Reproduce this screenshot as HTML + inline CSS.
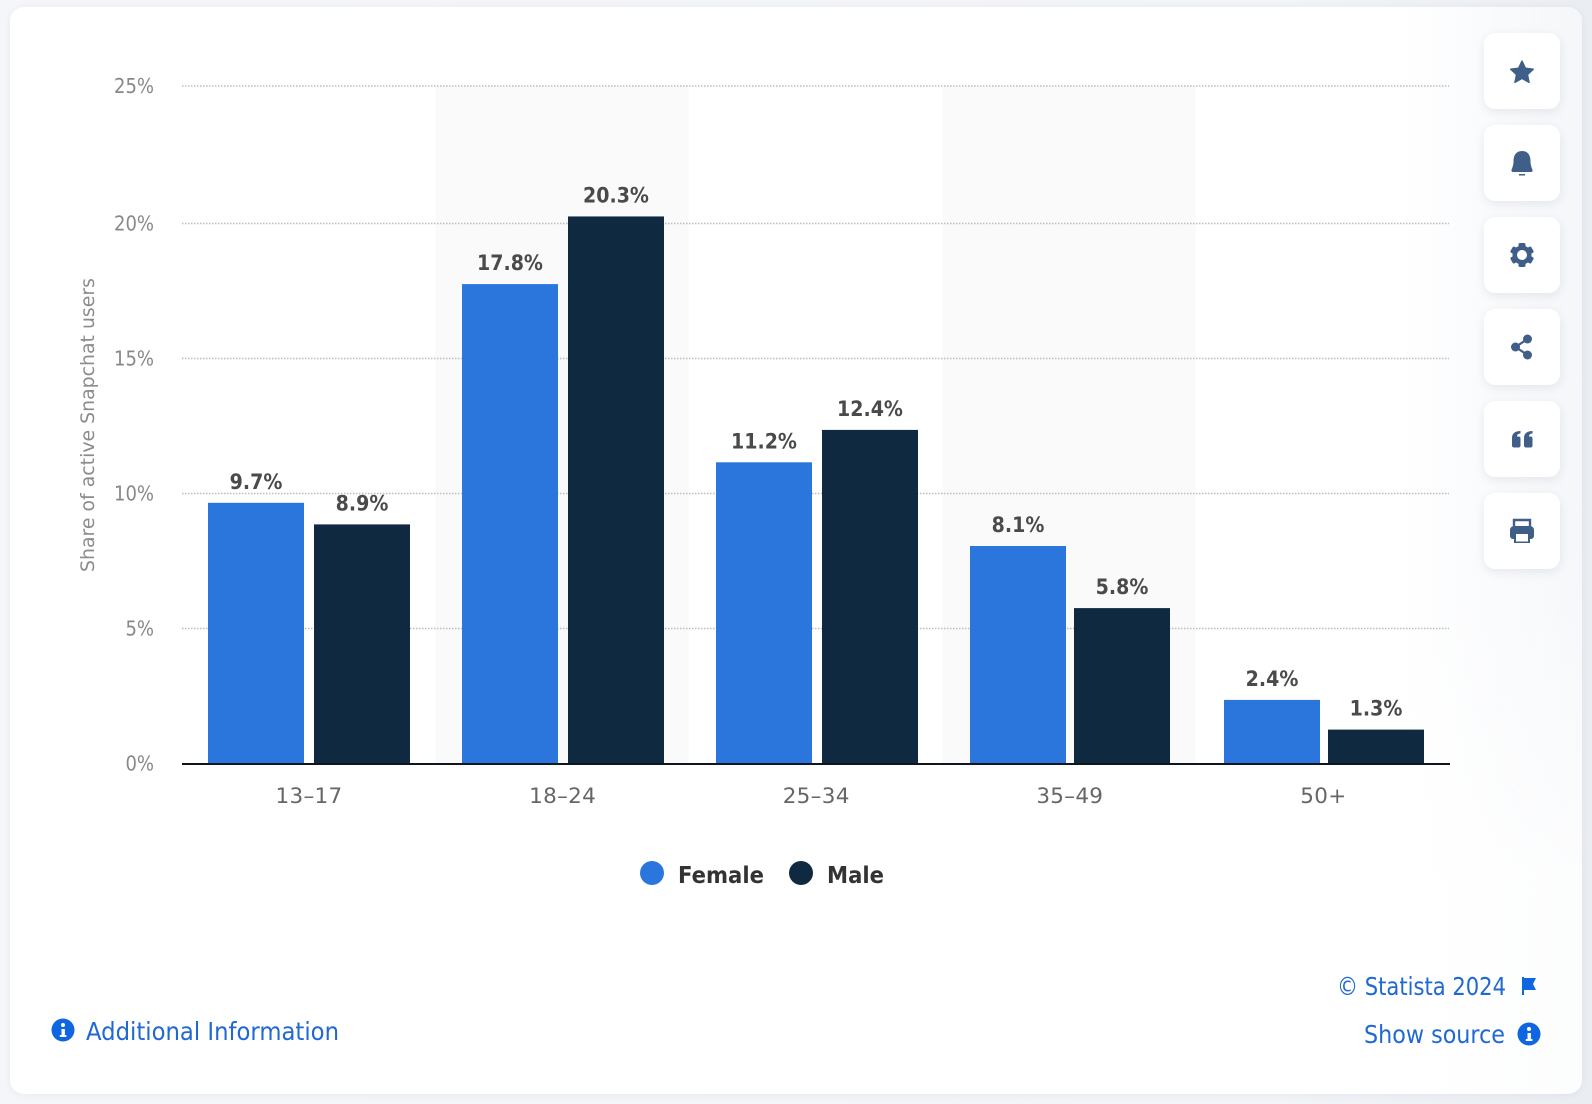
<!DOCTYPE html>
<html lang="en">
<head>
<meta charset="utf-8">
<title>Share of active Snapchat users by age and gender</title>
<style>
  html,body{margin:0;padding:0;width:1592px;height:1104px;overflow:hidden;background:linear-gradient(90deg,#f5f6f9,#f2f4f7 80%,#eaedf2);}
  #card{position:absolute;left:10px;top:7px;width:1572px;height:1087px;background:#fff;border-radius:14px;box-shadow:0 1px 8px rgba(60,80,110,.07);}
  #glow{position:absolute;left:1400px;top:7px;width:182px;height:1087px;border-radius:0 14px 14px 0;background:linear-gradient(90deg,rgba(240,243,247,0),rgba(240,243,247,.7));-webkit-mask-image:linear-gradient(180deg,#000 0,#000 50%,rgba(0,0,0,.25) 80%,rgba(0,0,0,.25) 100%);mask-image:linear-gradient(180deg,#000 0,#000 50%,rgba(0,0,0,.25) 80%,rgba(0,0,0,.25) 100%);}
  .tool{position:absolute;left:1484px;width:76px;height:76px;background:#fff;border-radius:11px;box-shadow:0 3px 10px rgba(50,70,100,.10);}
  .tool svg{position:absolute;left:0;top:0;width:76px;height:76px;}
  #chart{position:absolute;left:0;top:0;width:1592px;height:1104px;}
  text{font-family:"DejaVu Sans","Liberation Sans",sans-serif;}
  .link{font-family:"DejaVu Sans","Liberation Sans",sans-serif;font-size:24.5px;fill:#2068d2;}
</style>
</head>
<body>
<div id="card"></div>
<div id="glow"></div>

<svg id="chart" viewBox="0 0 1592 1104" xmlns="http://www.w3.org/2000/svg">
  <g id="bands"></g>
  <g id="grid"></g>
  <g id="ylabels"></g>
  <g id="bars"></g>
  <line x1="182" x2="1450" y1="764" y2="764" stroke="#10161d" stroke-width="2"/>
  <g id="xlabels"></g>
  <text transform="translate(94,425) rotate(-90)" text-anchor="middle" font-size="19" fill="#8c8c8c" textLength="294" lengthAdjust="spacingAndGlyphs">Share of active Snapchat users</text>

  <g>
    <g>
      <circle cx="652" cy="873" r="12" fill="#2a76dc"/>
      <text x="678" y="883" font-size="23.500" font-weight="700" fill="#333" textLength="86" lengthAdjust="spacingAndGlyphs">Female</text>
    </g>
    <g>
      <circle cx="801" cy="873" r="12" fill="#0f2a40"/>
      <text x="827" y="883" font-size="23.500" font-weight="700" fill="#333" textLength="57" lengthAdjust="spacingAndGlyphs">Male</text>
    </g>
  </g>

  <g>
    <circle cx="63" cy="1030" r="11.5" fill="#0f66e0"/>
    <rect x="61.5" y="1029" width="3.4" height="7" fill="#fff"/>
    <rect x="59.8" y="1035" width="6.6" height="2" fill="#fff"/>
    <circle cx="63" cy="1025" r="2" fill="#fff"/>
    <text class="link" x="86" y="1040" textLength="253" lengthAdjust="spacingAndGlyphs">Additional Information</text>
  </g>
  <g>
    <text class="link" x="1337" y="995" textLength="169" lengthAdjust="spacingAndGlyphs">© Statista 2024</text>
    <path d="M1522 977h2v18h-2zM1524 978h12l-3 6 3 6h-12z" fill="#0f66e0"/>
  </g>
  <g>
    <text class="link" x="1364" y="1043" textLength="141" lengthAdjust="spacingAndGlyphs">Show source</text>
    <circle cx="1529" cy="1034" r="11.5" fill="#0f66e0"/>
    <rect x="1527.5" y="1033" width="3.4" height="7" fill="#fff"/>
    <rect x="1525.8" y="1039" width="6.6" height="2" fill="#fff"/>
    <circle cx="1529" cy="1029" r="2" fill="#fff"/>
  </g>
</svg>

<div class="tool" style="top:33px">
  <svg viewBox="0 0 76 76"><path d="M38 28l3.400 7.200 7.900 1-5.800 5.400 1.600 7.800-7.100-4-7.100 4 1.600-7.800-5.800-5.400 7.900-1z" fill="#3f5f88" stroke="#3f5f88" stroke-width="1.400" stroke-linejoin="round"/></svg>
</div>
<div class="tool" style="top:125px">
  <svg viewBox="0 0 76 76"><path d="M38 26c6 0 8.500 4.500 8.500 10 0 5 1.500 7 2 9 .3 1.500-.5 2-2 2h-17c-1.500 0-2.300-.5-2-2 .5-2 2-4 2-9 0-5.500 2.500-10 8.500-10z" fill="#3f5f88"/><rect x="35" y="49" width="6" height="1.500" fill="#3f5f88"/></svg>
</div>
<div class="tool" style="top:217px">
  <svg viewBox="0 0 76 76"><g fill="#3f5f88"><circle cx="38" cy="38" r="9.500"/><rect x="34.500" y="26" width="7" height="24" rx="1.500"/><rect x="34.500" y="26" width="7" height="24" rx="1.500" transform="rotate(60 38 38)"/><rect x="34.500" y="26" width="7" height="24" rx="1.500" transform="rotate(120 38 38)"/></g><circle cx="38" cy="38" r="5" fill="#fff"/></svg>
</div>
<div class="tool" style="top:309px">
  <svg viewBox="0 0 76 76"><g fill="#3f5f88"><circle cx="43.500" cy="30" r="4.500"/><circle cx="31.500" cy="38" r="4.500"/><circle cx="43.500" cy="46" r="4.500"/></g><path d="M43.500 30L31.500 38L43.500 46" fill="none" stroke="#3f5f88" stroke-width="2.200"/></svg>
</div>
<div class="tool" style="top:401px">
  <svg viewBox="0 0 76 76"><path d="M36.500 30v2.500c-2 0-3.500 1-3.500 3h1.500c1.200 0 2 .8 2 2v7c0 1.200-.8 2-2 2h-4.500c-1.200 0-2-.8-2-2v-7.500c0-4.500 3-7 8.500-7zM48.500 30v2.500c-2 0-3.500 1-3.500 3h1.500c1.200 0 2 .8 2 2v7c0 1.200-.8 2-2 2H42c-1.200 0-2-.8-2-2v-7.500c0-4.500 3-7 8.500-7z" fill="#3f5f88"/></svg>
</div>
<div class="tool" style="top:493px">
  <svg viewBox="0 0 76 76"><path d="M30 33v-6h16v6" fill="none" stroke="#3f5f88" stroke-width="2.400"/><path d="M30 33h16a4 4 0 0 1 4 4v6a3 3 0 0 1-3 3h-1v4H30v-4h-1a3 3 0 0 1-3-3v-6a4 4 0 0 1 4-4z" fill="#3f5f88"/><rect x="32" y="41" width="12" height="7.500" fill="#fff"/></svg>
</div>

<script>
const categories = ['13–17', '18–24', '25–34', '35–49', '50+'];
const femaleValues = [9.7, 17.8, 11.2, 8.1, 2.4];
const maleValues = [8.9, 20.3, 12.4, 5.8, 1.3];
const yTicks = [0, 5, 10, 15, 20, 25];
const NS = 'http://www.w3.org/2000/svg';

function yScale(v) {
  return 764.7 - 27 * v - Math.max(0, v - 20) * 0.5;
}
function bandLeft(i) {
  return 182 + 253.4 * i;
}
function femaleLeft(i) {
  return 208 + 254 * i;
}
function maleLeft(i) {
  return femaleLeft(i) + (i < 3 ? 106 : 104);
}
function make(tag, attrs, parent, txt) {
  const el = document.createElementNS(NS, tag);
  for (const k in attrs) el.setAttribute(k, attrs[k]);
  if (txt !== undefined) el.textContent = txt;
  parent.appendChild(el);
  return el;
}

const bandsG = document.getElementById('bands');
const gridG = document.getElementById('grid');
const yG = document.getElementById('ylabels');
const barsG = document.getElementById('bars');
const xG = document.getElementById('xlabels');
const barWidth = 96;

categories.forEach(function (c, i) {
  if (i % 2 === 1) {
    const band = make('rect', {x: bandLeft(i), y: yScale(25) - 1, width: 253.4, height: yScale(0) - yScale(25), fill: '#fafafa'}, bandsG);
    
    
  }
  const lbl = make('text', {x: 309 + 253.6 * i, y: 803, 'text-anchor': 'middle', 'font-size': 21.5, 'letter-spacing': 0.3, fill: '#666'}, xG, c);
  
  
});

yTicks.forEach(function (t) {
  const gy = yScale(t) - 1.2;
  if (t > 0) {
    const line = make('line', {x1: 182, x2: 1449, y1: gy, y2: gy, stroke: '#bdbdbd', 'stroke-width': 1.4, 'stroke-dasharray': '1.5 1.5'}, gridG);
    
    
  }
  const lbl = make('text', {transform: 'translate(154,' + (gy + 7) + ') scale(0.9,1)', 'text-anchor': 'end', 'font-size': 20, fill: '#888'}, yG, t + '%');
  
  
});

function drawSeries(values, leftFn, color, seriesName) {
  values.forEach(function (v, i) {
    const x = leftFn(i);
    const top = yScale(v);
    const bar = make('rect', {x: x, y: top, width: barWidth, height: yScale(0) - top, fill: color}, barsG);
    
    
    const val = make('text', {transform: 'translate(' + (x + barWidth / 2) + ',' + (top - 14) + ') scale(0.905,1)', 'text-anchor': 'middle', 'font-size': 21, 'font-weight': 700, fill: '#4a4a4a'}, barsG, v.toFixed(1) + '%');
    
    
  });
}
drawSeries(femaleValues, femaleLeft, '#2a76dc', 'female');
drawSeries(maleValues, maleLeft, '#0f2a40', 'male');
</script>
</body>
</html>
